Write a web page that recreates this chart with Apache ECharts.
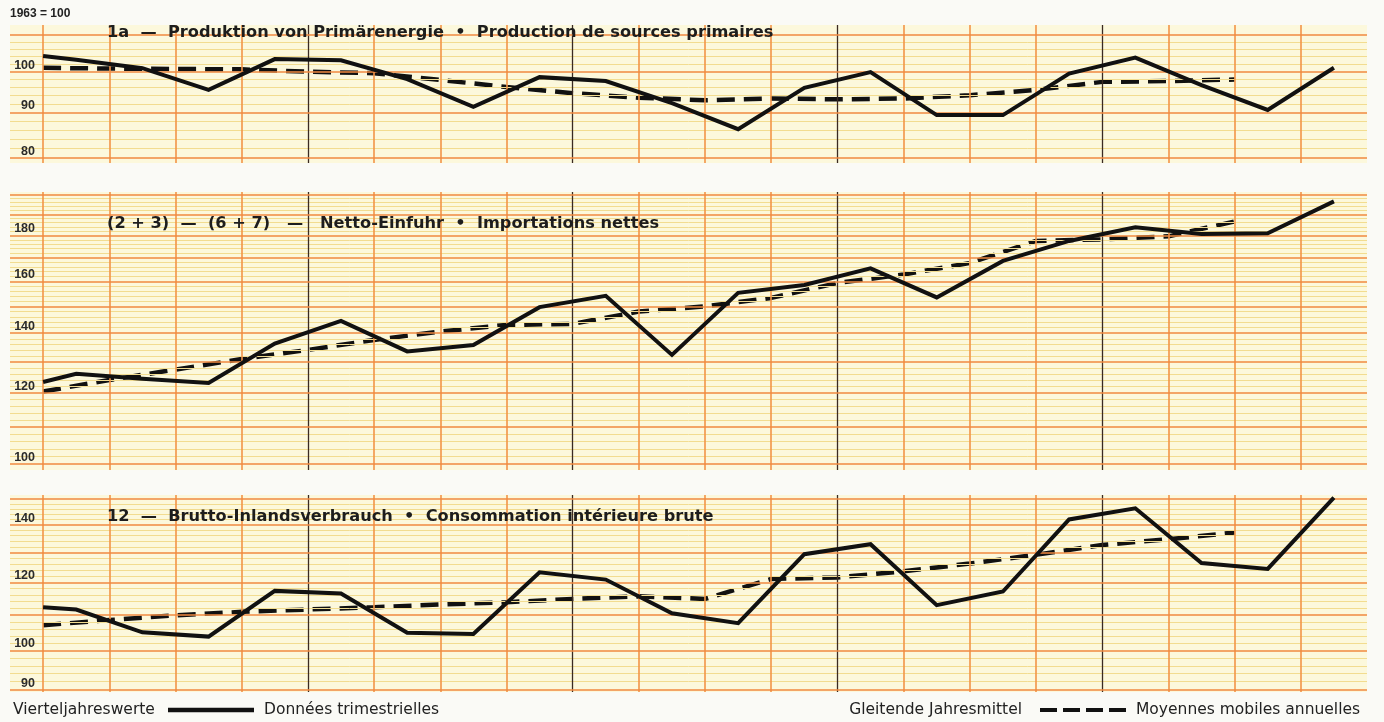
<!DOCTYPE html>
<html><head><meta charset="utf-8">
<script src="https://cdn.jsdelivr.net/npm/echarts@6/dist/echarts.min.js"></script>
<style>html,body{margin:0;padding:0;background:#fafaf6;} #c{width:1384px;height:722px;}</style>
</head><body><div id="c"></div>
<script>
// quarter positions (0 = left edge of first quarter)
const quarterMid = [0.5,1.5,2.5,3.5,4.5,5.5,6.5,7.5,8.5,9.5,10.5,11.5,12.5,13.5,14.5,15.5,16.5,17.5,18.5,19.5];
const quarterEdge = [0,1,2,3,4,5,6,7,8,9,10,11,12,13,14,15,16,17,18];
const quarterLines = [0,1,2,3,4,5,6,7,8,9,10,11,12,13,14,15,16,17,18,19];
const yearLines = [4,8,12,16];

// Panel 1a — production of primary energy (first value = left edge)
const prodSolid = [104.1,103.1,100.9,95.4,103.3,103.0,98.1,91.3,98.6,97.6,92.2,86.2,95.9,99.9,89.4,89.4,99.5,103.7,96.6,90.6,101.0];
const prodDashed = [101.0,100.8,100.7,100.6,100.0,99.6,97.9,96.1,94.6,93.5,92.9,93.3,93.1,93.3,94.1,95.4,97.4,97.6,98.0];
// Panel (2+3)-(6+7) — net imports
const importSolid = [123.5,126.1,124.5,123.2,136.3,144.5,133.6,135.8,149.7,154.1,132.4,155.3,158.5,165.4,153.5,168.6,177.5,183.8,180.7,181.0,196.5];
const importDashed = [120.5,124.1,127.5,131.0,134.1,137.6,140.6,143.0,143.4,148.0,150.0,153.3,159.3,162.8,167.7,177.5,178.2,179.6,186.6];
// Panel 12 — gross inland consumption
const consSolid = [112.3,111.6,105.0,103.8,117.3,116.5,104.9,104.5,123.3,120.9,110.5,107.6,129.4,132.9,112.9,117.1,142.0,146.3,126.4,124.4,150.5];
const consDashed = [107.0,108.5,109.9,110.9,111.6,112.3,113.1,113.8,114.8,115.6,114.8,121.1,121.6,123.6,126.2,129.2,132.6,134.7,137.1];

// tick labels
const p1Labels = [80,90,100];
const p2Labels = [100,120,140,160,180];
const p3Labels = [90,100,120,140];
const p1Major = [80,90,100,110];
const p2Major = [100,110,120,130,140,150,160,170,180,190,200];
const p3Major = [90,100,110,120,130,140,150];

const titles = [
  '1a  —  Produktion von Primärenergie  •  Production de sources primaires',
  '(2 + 3)  —  (6 + 7)   —   Netto-Einfuhr  •  Importations nettes',
  '12  —  Brutto-Inlandsverbrauch  •  Consommation intérieure brute'
];
const solidName = 'Données trimestrielles';
const dashedName = 'Moyennes mobiles annuelles';

const panels = [
  {top:25, height:138, min:79.0, max:112.8, major:p1Major, labels:p1Labels, solid:prodSolid, dashed:prodDashed, titleTop:20},
  {top:192, height:278, min:98.47, max:201.3, major:p2Major, labels:p2Labels, solid:importSolid, dashed:importDashed, titleTop:211},
  {top:495, height:197, min:89.5, max:151.6, major:p3Major, labels:p3Labels, solid:consSolid, dashed:consDashed, titleTop:504}
];

const ORANGE = '#f08a40', MINOR = '#f2dc90', VLINE = '#f29448', DARK = '#3a2a22', INK = '#111';
const labelFont = "'Liberation Sans Narrow','Liberation Sans',Arial,sans-serif";

const grids = [], xAxes = [], yAxes = [], series = [];
panels.forEach((p, i) => {
  grids.push({left:10, right:17, top:p.top, height:p.height, show:true, backgroundColor:'#fcf8dc', borderWidth:0});
  xAxes.push({type:'value', gridIndex:i, min:-0.5, max:20, show:false});
  yAxes.push({type:'log', logBase:10, gridIndex:i, min:p.min, max:p.max, show:false});
  const ml = [];
  const lo = p.major[0], hi = p.major[p.major.length-1];
  for (let v = lo; v <= hi; v += 2) {
    if (p.major.indexOf(v) >= 0) continue;
    ml.push({yAxis:v, lineStyle:{color:MINOR, width:1, type:'solid'}, label:{show:false}});
  }
  quarterLines.forEach(q => {
    const dark = yearLines.indexOf(q) >= 0;
    ml.push({xAxis:q, lineStyle:{color: dark ? DARK : VLINE, width: dark ? 1.3 : 1.6, type:'solid'}, label:{show:false}});
  });
  p.major.forEach(v => {
    const lab = p.labels.indexOf(v) >= 0;
    ml.push({yAxis:v, lineStyle:{color:ORANGE, width:1.5, type:'solid'},
      label: lab ? {show:true, position:'insideStartTop', distance:[0,0], formatter:'{t|' + v + '}',
        rich:{t:{width:25, align:'right', fontSize:12.5, fontFamily:labelFont, color:'#2a2a2a', fontWeight:'bold'}}} : {show:false}});
  });
  series.push({type:'line', xAxisIndex:i, yAxisIndex:i, data:[], silent:true, z:1,
    markLine:{symbol:'none', silent:true, animation:false, emphasis:{disabled:true}, data:ml}});
  const sData = [[0, p.solid[0]]].concat(quarterMid.map((q, j) => [q, p.solid[j+1]]));
  series.push({type:'line', name:solidName, xAxisIndex:i, yAxisIndex:i, data:sData, symbol:'none', z:5,
    itemStyle:{color:INK}, lineStyle:{color:INK, width:4, join:'miter'}, animation:false, silent:true});
  const dData = quarterEdge.map((q, j) => [q, p.dashed[j]]);
  series.push({type:'line', name:dashedName, xAxisIndex:i, yAxisIndex:i, data:dData, symbol:'none', z:4,
    itemStyle:{color:INK}, lineStyle:{color:INK, width:4.5, type:'dashed'}, animation:false, silent:true});
});

const titleFont = "'DejaVu Sans',Arial,sans-serif";
const bottomFont = "'DejaVu Sans',Arial,sans-serif";
const titleList = [
  {text:'1963 = 100', left:5, top:3, textStyle:{fontSize:12, fontWeight:'bold', color:'#222', fontFamily:labelFont}},
  {text:'Vierteljahreswerte', left:8, top:697, textStyle:{fontSize:15.5, fontWeight:'normal', color:'#222', fontFamily:bottomFont}},
  {text:'Gleitende Jahresmittel', right:357, top:697, textStyle:{fontSize:15.5, fontWeight:'normal', color:'#222', fontFamily:bottomFont}}
];
panels.forEach((p, i) => {
  titleList.push({text:titles[i], left:102, top:p.titleTop, textStyle:{fontSize:16.2, fontWeight:'bold', color:'#1d1d1d', fontFamily:titleFont}});
});

const legendText = {fontSize:15.5, color:'#222', fontFamily:bottomFont, padding:[0,0,0,5]};
const dashIcon = 'path://M0,0h17v4h-17z M23,0h17v4h-17z M46,0h17v4h-17z M69,0h17v4h-17z';
const option = {
  backgroundColor:'#fafaf6',
  animation:false,
  title:titleList,
  grid:grids, xAxis:xAxes, yAxis:yAxes, series:series,
  legend:[
    {data:[{name:solidName, icon:'rect', itemStyle:{color:INK}}], left:163, top:697, itemWidth:86, itemHeight:4.5, selectedMode:false, textStyle:legendText},
    {data:[{name:dashedName, icon:dashIcon, itemStyle:{color:INK}}], left:1035, top:697, itemWidth:86, itemHeight:4.5, selectedMode:false, textStyle:legendText}
  ]
};
const chart = echarts.init(document.getElementById('c'), null, {renderer:'canvas'});
chart.setOption(option);
</script>
</body></html>
